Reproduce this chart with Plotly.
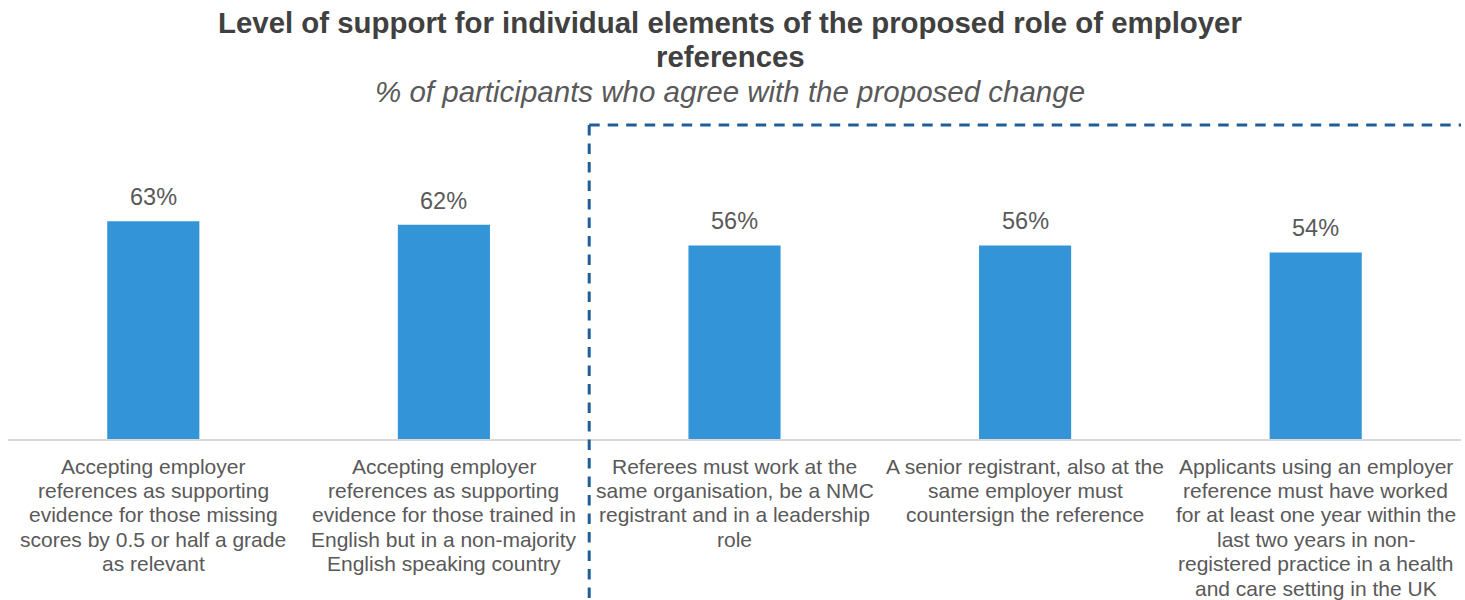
import plotly.graph_objects as go

# Survey items (line breaks as they are set under the bars) and agreement shares
categories = [
    "Accepting employer<br>references as supporting<br>evidence for those missing<br>scores by 0.5 or half a grade<br>as relevant",
    "Accepting employer<br>references as supporting<br>evidence for those trained in<br>English but in a non-majority<br>English speaking country",
    "Referees must work at the<br>same organisation, be a NMC<br>registrant and in a leadership<br>role",
    "A senior registrant, also at the<br>same employer must<br>countersign the reference",
    "Applicants using an employer<br>reference must have worked<br>for at least one year within the<br>last two years in non-<br>registered practice in a health<br>and care setting in the UK",
]
agree_pct = [63, 62, 56, 56, 54]

title_lines = [
    "Level of support for individual elements of the proposed role of employer",
    "references",
]
subtitle_text = "% of participants who agree with the proposed change"

BAR_COLOR = "#3494D8"
TEXT_COLOR = "#595959"
TITLE_COLOR = "#404040"
DASH_COLOR = "#1F5F99"
FONT = "Liberation Sans, Arial, sans-serif"

W, H = 1465, 600
M_T, M_B = 128, 161
plot_h = H - M_T - M_B


def py(pix):
    """Convert a pixel row (from the top of the page) to paper y."""
    return (H - M_B - pix) / plot_h


x_idx = list(range(len(categories)))

fig = go.Figure(
    go.Bar(
        x=x_idx,
        y=agree_pct,
        width=0.317,
        marker=dict(color=BAR_COLOR, line=dict(width=0)),
        hoverinfo="skip",
    )
)

fig.update_layout(
    width=W, height=H,
    margin=dict(l=8, r=4, t=M_T, b=M_B),
    plot_bgcolor="white", paper_bgcolor="white",
    showlegend=False,
    font=dict(family=FONT, color=TEXT_COLOR),
    xaxis=dict(
        tickmode="array", tickvals=x_idx,
        showticklabels=False,
        range=[-0.5, 4.5], showgrid=False, zeroline=False,
        showline=True, linecolor="#D9D9D9", linewidth=2,
        ticks="", fixedrange=True,
    ),
    yaxis=dict(range=[0, 90], visible=False, fixedrange=True),
)

# value labels above each bar
for xi, v in zip(x_idx, agree_pct):
    fig.add_annotation(
        x=xi, y=v, text=f"{v}%", showarrow=False,
        yanchor="middle", yshift=24,
        font=dict(family=FONT, size=23.5, color=TEXT_COLOR),
    )

# category labels, one annotation per line for tight line spacing
LINE_START, LINE_STEP = 466, 24.4
for xi, label in zip(x_idx, categories):
    for li, line in enumerate(label.split("<br>")):
        fig.add_annotation(
            x=xi, xref="x", y=py(LINE_START + li * LINE_STEP), yref="paper",
            text=line, showarrow=False, yanchor="middle", xanchor="center",
            font=dict(family=FONT, size=21, color=TEXT_COLOR),
        )

# title and subtitle
for li, line in enumerate(title_lines):
    fig.add_annotation(
        x=0.497, xref="paper", y=py(22 + li * 34), yref="paper",
        text="<b>" + line + "</b>", showarrow=False,
        font=dict(family=FONT, size=29.4, color=TITLE_COLOR),
        yanchor="middle", xanchor="center",
    )
fig.add_annotation(
    x=0.497, xref="paper", y=py(91), yref="paper",
    text="<i>" + subtitle_text + "</i>", showarrow=False,
    font=dict(family=FONT, size=29.5, color=TEXT_COLOR),
    yanchor="middle", xanchor="center",
)

# dashed bracket around the employer-reference requirements
dash = "10.5px,8px"
fig.add_shape(type="line", xref="x", yref="paper", x0=1.5, x1=1.5, y0=py(125), y1=py(600),
              line=dict(color=DASH_COLOR, width=3, dash=dash))
fig.add_shape(type="line", xref="x", yref="paper", x0=1.5, x1=4.52, y0=py(125), y1=py(125),
              line=dict(color=DASH_COLOR, width=3, dash=dash))

fig.write_html("out.html")
